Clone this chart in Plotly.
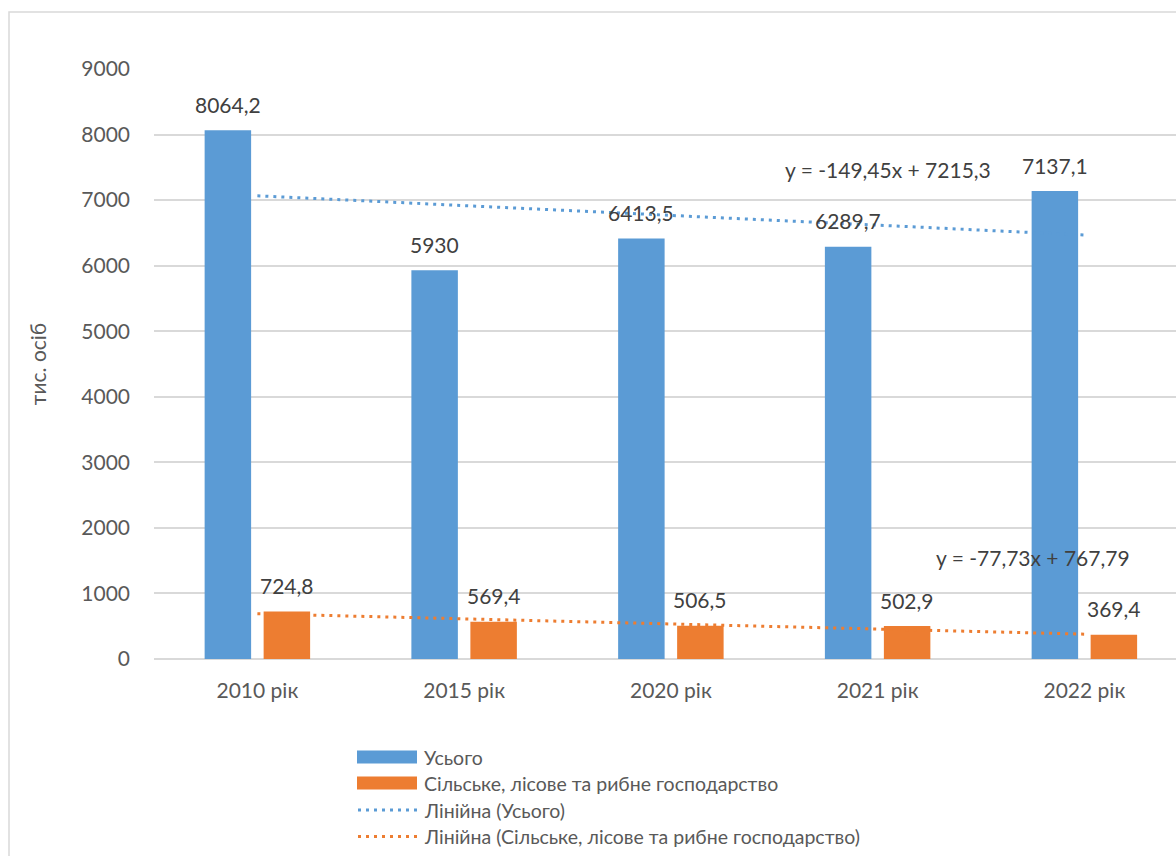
import numpy as np
import plotly.graph_objects as go

categories = ["2010 рік", "2015 рік", "2020 рік", "2021 рік", "2022 рік"]
total = [8064.2, 5930, 6413.5, 6289.7, 7137.1]
agri = [724.8, 569.4, 506.5, 502.9, 369.4]
name_total = "Усього"
name_agri = "Сільське, лісове та рибне господарство"
name_trend_total = "Лінійна (Усього)"
name_trend_agri = "Лінійна (Сільське, лісове та рибне господарство)"
eq_total = "y = -149,45x + 7215,3"
eq_agri = "y = -77,73x + 767,79"
y_title = "тис. осіб"
y_ticks = [0, 1000, 2000, 3000, 4000, 5000, 6000, 7000, 8000, 9000]

BLUE = "#5B9BD5"
ORANGE = "#ED7D31"
TICK = "#595959"
LABEL = "#404040"
GRID = "#D9D9D9"
FONT = "Lato, 'Open Sans', sans-serif"
FS = 21

W, H = 1176, 856
L, T, B = 154, 69, 659
CAT = 206.75

xi = np.arange(1, len(categories) + 1)
pt = np.polyfit(xi, total, 1)
pa = np.polyfit(xi, agri, 1)

fig = go.Figure()
fig.add_bar(x=categories, y=total, name=name_total, marker_color=BLUE,
            marker_line_width=0, showlegend=False)
fig.add_bar(x=categories, y=agri, name=name_agri, marker_color=ORANGE,
            marker_line_width=0, showlegend=False)
fig.add_scatter(x=categories, y=np.polyval(pt, xi), mode="lines", name=name_trend_total,
                line=dict(color=BLUE, width=3, dash="3px,5px"), showlegend=False)
fig.add_scatter(x=categories, y=np.polyval(pa, xi), mode="lines", name=name_trend_agri,
                line=dict(color=ORANGE, width=3, dash="3px,5px"), showlegend=False)


def fmt(v):
    return f"{v:g}".replace(".", ",")


ann = []
for c, v in zip(categories, total):
    ann.append(dict(x=c, y=v, text=fmt(v), xshift=-29.5, yshift=26, showarrow=False,
                    yanchor="middle", font=dict(size=FS, color=LABEL, family=FONT)))
for c, v in zip(categories, agri):
    ann.append(dict(x=c, y=v, text=fmt(v), xshift=29.5, yshift=26, showarrow=False,
                    yanchor="middle", font=dict(size=FS, color=LABEL, family=FONT)))

ann.append(dict(x=3.05, y=7466, text=eq_total, showarrow=False, yanchor="middle",
                font=dict(size=FS, color=LABEL, family=FONT)))
ann.append(dict(x=3.75, y=1542, text=eq_agri, showarrow=False, yanchor="middle",
                font=dict(size=FS, color=LABEL, family=FONT)))


def px_x(p):
    return (p - L) / (W - L)


def px_y(p):
    return (B - p) / (B - T)


shapes = []
# outer chart border (right/bottom run off the canvas)
shapes.append(dict(type="rect", xref="paper", yref="paper",
                   x0=px_x(9), x1=px_x(W + 40), y0=px_y(H + 40), y1=px_y(12),
                   line=dict(color=GRID, width=1.5), fillcolor="rgba(0,0,0,0)", layer="below"))

# custom legend
rows = [757, 783, 810, 836.5]
names = [name_total, name_agri, name_trend_total, name_trend_agri]
kinds = [("bar", BLUE), ("bar", ORANGE), ("line", BLUE), ("line", ORANGE)]
for ry, nm, (kind, col) in zip(rows, names, kinds):
    if kind == "bar":
        shapes.append(dict(type="rect", xref="paper", yref="paper",
                           x0=px_x(357), x1=px_x(417), y0=px_y(ry + 6.5), y1=px_y(ry - 6.5),
                           line=dict(width=0), fillcolor=col))
    else:
        shapes.append(dict(type="line", xref="paper", yref="paper",
                           x0=px_x(358), x1=px_x(417), y0=px_y(ry), y1=px_y(ry),
                           line=dict(color=col, width=3, dash="3px,5px")))
    ann.append(dict(xref="paper", yref="paper", x=px_x(422), y=px_y(ry), text=nm,
                    showarrow=False, xanchor="left", yanchor="middle",
                    font=dict(size=19.5, color=TICK, family=FONT)))

fig.update_layout(
    width=W, height=H,
    margin=dict(l=L, r=0, t=T, b=H - B, pad=0),
    paper_bgcolor="white", plot_bgcolor="white",
    barmode="group", bargap=0.4293, bargroupgap=0.212,
    font=dict(family=FONT, size=FS, color=TICK),
    annotations=ann, shapes=shapes,
    xaxis=dict(type="category", range=[-0.5, -0.5 + (W - L) / CAT],
               showgrid=False, showline=False, zeroline=False,
               tickfont=dict(size=FS, color=TICK, family=FONT), ticklabelstandoff=17),
    yaxis=dict(range=[0, 9000], tickvals=y_ticks, showgrid=True, gridcolor=GRID,
               gridwidth=1.5, zeroline=True, zerolinecolor=GRID, zerolinewidth=1.5,
               showline=False, tickfont=dict(size=FS, color=TICK, family=FONT),
               ticklabelstandoff=23,
               title=dict(text=y_title, font=dict(size=FS, color=TICK, family=FONT), standoff=28)),
)

fig.write_html("out.html", config={"displayModeBar": False},
               post_script="document.body.style.margin='0px';")
